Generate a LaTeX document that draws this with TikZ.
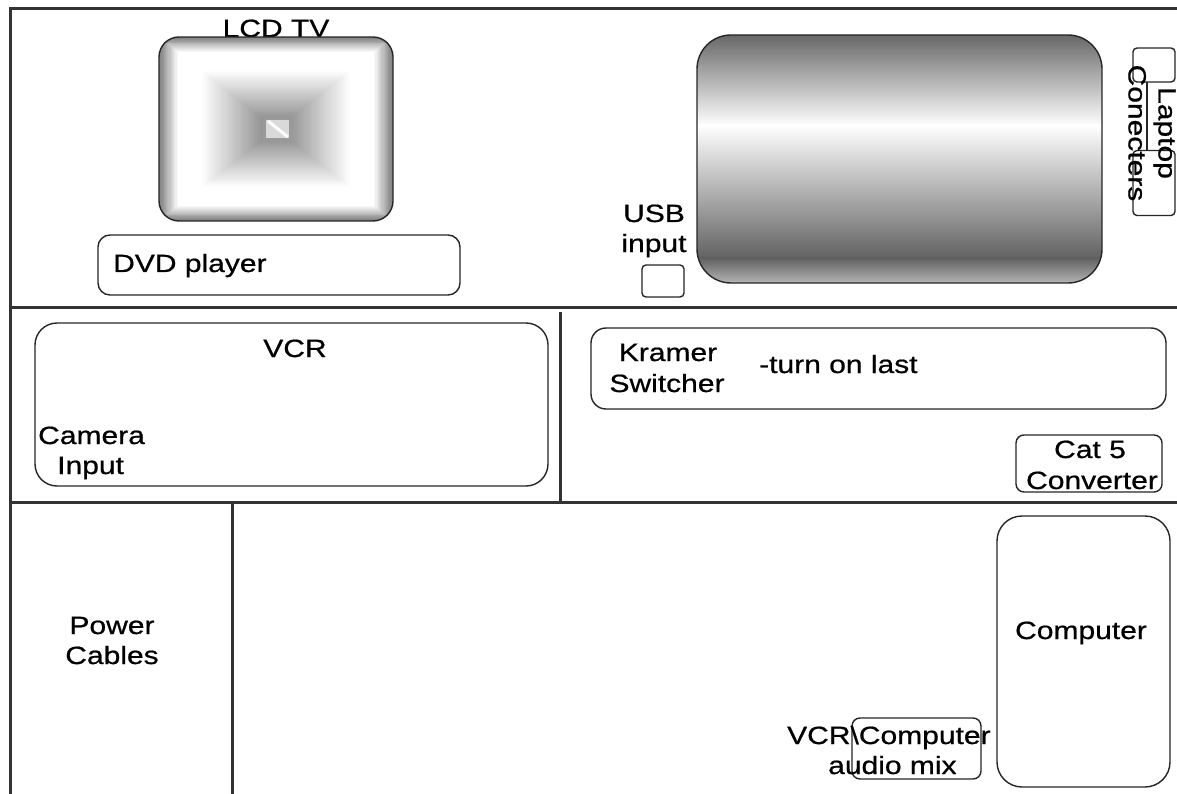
\documentclass[tikz,border=0pt]{standalone}
\usepackage{fontspec}
\setmainfont{Liberation Sans}[FakeStretch=1.2,FakeBold=0.7]
\begin{document}
\begin{tikzpicture}[x=1pt,y=-1pt,
  frame/.style={line width=3pt,draw=black!80},
  unit/.style={draw=black!85,line width=1.4pt,rounded corners=#1,inner sep=0pt,outer sep=0pt},
  unit/.default=8pt,
  wire/.style={draw=black!85,line width=1.2pt},
  lbl/.style={font=\fontsize{25}{30}\selectfont,inner sep=0pt,text=black},
]
\useasboundingbox (0,0) rectangle (1177,794);
\fill[white] (0,0) rectangle (1177,794);

% frame lines
\draw[frame] (10,794) -- (10,9) -- (1177,9);
\draw[frame] (10,307) -- (1177,307);
\draw[frame] (10,502) -- (1177,502);
\draw[frame] (560,312) -- (560,502);
\draw[frame] (232,503) -- (232,794);

% LCD TV
\node[lbl,anchor=base] (lcdlabel) at (276,37) {LCD TV};
\begin{scope}
  \clip[rounded corners=20pt] (159,37) rectangle (393,221);
  \foreach \i in {0,...,99}{
    \pgfmathsetmacro\t{\i/100}
    \pgfmathsetmacro\g{\t<0.16 ? 50*(1-\t/0.16) : (\t<0.36 ? 0 : min(42,42*(\t-0.36)/0.52))}
    \fill[black!\g] ({276-(1-\t)*117},{129-(1-\t)*92}) rectangle ({276+(1-\t)*117},{129+(1-\t)*92});
  }
  \fill[black!40] (263,117) rectangle (292,141);
  \fill[black!15] (266,120) rectangle (289,138);
  \draw[white,line width=3pt] (268,121) -- (288,137);
\end{scope}
\node[unit=20pt,minimum width=234pt,minimum height=184pt] (tv) at (276,129) {};

% DVD player
\node[unit=12pt,minimum width=362pt,minimum height=60pt] (dvd) at (279,265) {};
\node[lbl,anchor=base west] (dvdlabel) at (113,272) {DVD player};

% Projection screen
\begin{scope}
  \clip[rounded corners=34pt] (697,35) rectangle (1102,283);
  \shade[top color=black!60,bottom color=white] (697,34) rectangle (1102,126);
  \shade[top color=white,bottom color=black!62] (697,125) rectangle (1102,259);
  \shade[top color=black!62,bottom color=black!28] (697,258) rectangle (1102,284);
\end{scope}
\node[unit=34pt,minimum width=405pt,minimum height=248pt] (screen) at (899.5,159) {};

% USB
\node[lbl,anchor=base] (usbA) at (654,222) {USB};
\node[lbl,anchor=base] (usbB) at (654,252) {input};
\node[unit=4pt,minimum width=42pt,minimum height=32pt] (usb) at (663,281) {};

% Laptop connecters
\node[unit=4pt,minimum width=42pt,minimum height=34pt] (lapA) at (1154,65) {};
\node[unit=4pt,minimum width=42pt,minimum height=65pt] (lapB) at (1154,183) {};
\draw[wire] (lapA.south -| 1147,0) -- (lapB.north -| 1147,0);
\node[lbl,rotate=-90,align=center] (laplabel) at (1152,133) {Laptop\\Conecters};

% VCR
\node[unit=22pt,minimum width=513pt,minimum height=163pt] (vcr) at (291.5,404.5) {};
\node[lbl,anchor=base] (vcrlabel) at (295,357) {VCR};
\node[lbl,anchor=base west] (camA) at (38,444) {Camera};
\node[lbl,anchor=base west] (camB) at (57,474) {Input};

% Kramer switcher
\node[unit=15pt,minimum width=575pt,minimum height=81pt] (kramer) at (878.5,368.5) {};
\node[lbl,anchor=base] (kramA) at (668,361) {Kramer};
\node[lbl,anchor=base] (kramB) at (667,392) {Switcher};
\node[lbl,anchor=base west] (kramC) at (759,373) {-turn on last};

% Cat 5 converter
\node[unit=8pt,minimum width=146pt,minimum height=57pt] (cat) at (1089,463.5) {};
\node[lbl,anchor=base] (catA) at (1090,458) {Cat 5};
\node[lbl,anchor=base] (catB) at (1092,489) {Converter};

% Power cables
\node[lbl,anchor=base] (powA) at (112,634) {Power};
\node[lbl,anchor=base] (powB) at (112,664) {Cables};

% Computer
\node[unit=25pt,minimum width=173pt,minimum height=271pt] (computer) at (1083.5,651.5) {};
\node[lbl,anchor=base] (complabel) at (1081,639) {Computer};

% Audio mix
\node[unit=8pt,minimum width=129pt,minimum height=61pt] (mix) at (916.5,748.5) {};
\node[lbl,anchor=base west] (mixA) at (787,744) {VCR\textbackslash Computer};
\node[lbl,anchor=base west] (mixB) at (828,774) {audio mix};
\end{tikzpicture}
\end{document}
